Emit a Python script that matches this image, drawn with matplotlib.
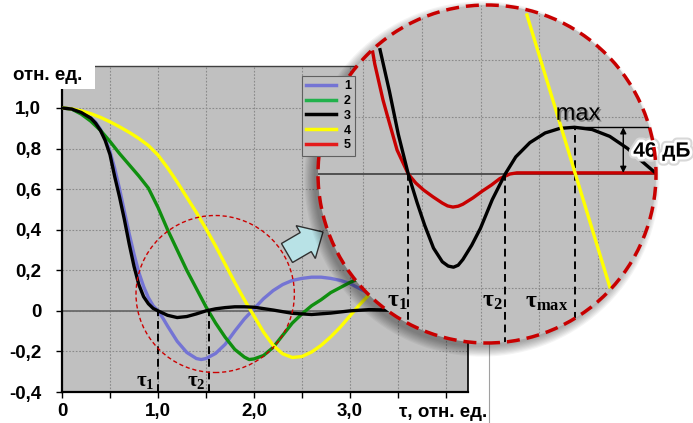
import numpy as np
import matplotlib
matplotlib.use("Agg")
import matplotlib.pyplot as plt
import matplotlib.patches as mpatches
import matplotlib.patheffects as pe
from matplotlib.lines import Line2D

plt.rcParams['font.family'] = ['Liberation Sans', 'DejaVu Sans']
plt.rcParams['mathtext.fontset'] = 'custom'
plt.rcParams['mathtext.rm'] = 'Liberation Serif'
plt.rcParams['mathtext.bf'] = 'Liberation Serif:bold'
plt.rcParams['mathtext.it'] = 'Liberation Serif:italic'

# --- main chart: correlation curves 1-4 vs tau (rel. units) ---
tau_1 = [0.0, 0.1, 0.2, 0.3, 0.35, 0.4, 0.45, 0.5, 0.55, 0.6, 0.65, 0.7, 0.75, 0.8,
         0.85, 0.9, 0.95, 1.0, 1.05, 1.1, 1.2, 1.3, 1.4, 1.45, 1.5, 1.6, 1.7, 1.8,
         1.9, 2.0, 2.1, 2.2, 2.3, 2.4, 2.5, 2.6, 2.7, 2.8, 2.9, 3.0, 3.1, 3.2, 3.3, 3.4]
curve1 = [1.0, 0.995, 0.978, 0.95, 0.93, 0.895, 0.85, 0.785, 0.7, 0.6, 0.49, 0.38, 0.28, 0.19,
          0.12, 0.065, 0.025, 0.0, -0.035, -0.075, -0.15, -0.205, -0.235, -0.24, -0.235, -0.21, -0.165, -0.1,
          -0.04, 0.01, 0.06, 0.1, 0.13, 0.15, 0.16, 0.166, 0.166, 0.16, 0.15, 0.135, 0.11, 0.085, 0.055, 0.025]

tau_2 = [0.0, 0.1, 0.2, 0.3, 0.4, 0.5, 0.6, 0.7, 0.8, 0.9, 1.0, 1.1, 1.2, 1.3, 1.4,
         1.5, 1.6, 1.7, 1.8, 1.9, 1.95, 2.0, 2.1, 2.2, 2.3, 2.4, 2.5, 2.6, 2.7, 2.8,
         2.9, 3.0, 3.1, 3.2, 3.3, 3.4]
curve2 = [1.0, 0.995, 0.97, 0.935, 0.89, 0.835, 0.775, 0.72, 0.665, 0.605, 0.51, 0.40, 0.30, 0.20, 0.11,
          0.02, -0.06, -0.13, -0.19, -0.228, -0.24, -0.237, -0.22, -0.18, -0.12, -0.06, -0.015, 0.025, 0.055, 0.09,
          0.115, 0.14, 0.16, 0.17, 0.175, 0.175]

tau_3 = [0.0, 0.1, 0.2, 0.3, 0.35, 0.4, 0.45, 0.5, 0.55, 0.6, 0.65, 0.7, 0.75, 0.8,
         0.85, 0.9, 0.95, 1.0, 1.1, 1.2, 1.3, 1.4, 1.5, 1.6, 1.7, 1.8, 1.9, 2.0,
         2.2, 2.4, 2.6, 2.8, 3.0, 3.2, 3.4, 3.5]
curve3 = [1.0, 0.995, 0.978, 0.95, 0.925, 0.89, 0.84, 0.77, 0.66, 0.56, 0.45, 0.33, 0.22, 0.13,
          0.07, 0.035, 0.012, 0.0, -0.022, -0.033, -0.028, -0.015, 0.0, 0.01, 0.016, 0.02, 0.02, 0.018,
          0.004, -0.012, -0.018, -0.011, 0.0, 0.006, 0.004, 0.002]

tau_4 = [0.0, 0.1, 0.2, 0.3, 0.4, 0.5, 0.6, 0.7, 0.8, 0.9, 1.0, 1.1, 1.2, 1.3, 1.4,
         1.5, 1.6, 1.7, 1.8, 1.9, 2.0, 2.1, 2.2, 2.3, 2.4, 2.5, 2.6, 2.7, 2.8, 2.9,
         3.0, 3.1, 3.2, 3.3, 3.4]
curve4 = [1.0, 0.996, 0.986, 0.972, 0.954, 0.932, 0.907, 0.88, 0.85, 0.815, 0.768, 0.705, 0.635, 0.56, 0.485,
          0.405, 0.32, 0.23, 0.14, 0.055, -0.025, -0.105, -0.17, -0.212, -0.23, -0.225, -0.203, -0.17, -0.128, -0.08,
          -0.025, 0.03, 0.08, 0.12, 0.15]
tau1, tau2 = 1.0, 1.53

# --- magnified view (grid units) ---
zoom_x3 = [0.29, 0.45, 0.6, 0.77, 0.92, 1.05, 1.2, 1.35, 1.45, 1.54, 1.62, 1.7, 1.85, 2.0, 2.2,
           2.42, 2.6, 2.84, 3.1, 3.35, 3.6, 3.9, 4.2, 4.5, 4.75, 5.0]
zoom_y3 = [2.18, 1.45, 0.7, 0.0, -0.5, -0.9, -1.3, -1.54, -1.615, -1.635, -1.6, -1.5, -1.25, -0.95, -0.45,
           0.0, 0.3, 0.55, 0.72, 0.8, 0.82, 0.78, 0.66, 0.45, 0.22, 0.0]
zoom_x5 = [0.165, 0.2, 0.34, 0.41, 0.58, 0.77, 0.9, 1.03, 1.19, 1.35, 1.44, 1.53, 1.62, 1.7, 1.87,
           2.03, 2.19, 2.33, 2.5, 2.62, 2.8, 3.5, 5.0]
zoom_y5 = [2.14, 1.93, 1.3, 1.04, 0.42, 0.0, -0.16, -0.28, -0.40, -0.51, -0.56, -0.58, -0.565, -0.53, -0.42,
           -0.3, -0.19, -0.08, 0.0, 0.02, 0.02, 0.02, 0.02]
zoom_x4 = [2.79, 4.2]
zoom_y4 = [2.79, -1.98]
ztau1, ztau2, ztau_max, zmax = 0.77, 2.42, 3.6, 0.82

W, H = 693, 423
BG = '#c0c0c0'
GRID = '#8a8a8a'
colors = {'1': '#7474d4', '2': '#0f8f0f', '3': 'black', '4': '#ffff00', '5': '#c80000'}

fig = plt.figure(figsize=(W / 100, H / 100), dpi=100)

ax = fig.add_axes([62 / W, 1 - 392 / H, (468 - 62) / W, (392 - 66) / H])
ax.set_facecolor(BG)
ax.set_xlim(0, 4.23)
ax.set_ylim(-0.4, 1.207)

xt = [0, 0.5, 1.0, 1.5, 2.0, 2.5, 3.0, 3.5, 4.0]
ax.set_xticks(xt)
ax.set_xticklabels(['0', '', '1,0', '', '2,0', '', '3,0', '', ''])
yt = [-0.4, -0.2, 0, 0.2, 0.4, 0.6, 0.8, 1.0]
ax.set_yticks(yt)
ax.set_yticklabels(['-0,4', '-0,2', '0', '0,2', '0,4', '0,6', '0,8', '1,0'])
ax.tick_params(axis='both', length=4, width=1, direction='out', labelsize=13.5)
ax.tick_params(axis='y', pad=11)
ax.tick_params(axis='x', pad=4)
for lbl in ax.get_xticklabels() + ax.get_yticklabels():
    lbl.set_fontweight('bold')
ax.grid(True, color=GRID, linestyle=(0, (1.5, 1.5)), linewidth=0.8)
ax.set_axisbelow(True)
for s in ['left', 'bottom']:
    ax.spines[s].set_linewidth(1.6)
    ax.spines[s].set_color('black')
ax.spines['right'].set_linewidth(1.2)
ax.spines['top'].set_color('#404040')
ax.spines['top'].set_linewidth(1.0)

ax.axhline(0, color='#6a6a6a', lw=1.3, zorder=1.5)

ax.plot(tau_1, curve1, color=colors['1'], lw=2.4, zorder=3, solid_joinstyle='round')
ax.plot(tau_2, curve2, color=colors['2'], lw=2.4, zorder=3, solid_joinstyle='round')
ax.plot(tau_4, curve4, color=colors['4'], lw=2.4, zorder=3, solid_joinstyle='round')
ax.plot(tau_3, curve3, color=colors['3'], lw=2.4, zorder=4, solid_joinstyle='round')

ax.vlines([tau1, tau2], -0.4, 0, colors='black', linestyles=(0, (4, 2.5)), lw=1.4, zorder=4)
ax.text(0.865, -0.35, r'$\mathbf{\tau_1}$', fontsize=15, ha='center', va='center')
ax.text(1.396, -0.35, r'$\mathbf{\tau_2}$', fontsize=15, ha='center', va='center')

# dashed circle marking the magnified region
ax.add_patch(mpatches.Ellipse((1.596, 0.083), 1.65, 0.774, fill=False,
                              ec='#cc0000', lw=1.0, ls=(0, (3, 2)), zorder=5))

# white box behind the y-axis unit label
fig.add_artist(mpatches.Rectangle((0, 1 - 89 / H), 95 / W, 45 / H, transform=fig.transFigure,
                                  fc='white', ec='none', zorder=4))
fig.text(13 / W, 1 - 75 / H, 'отн. ед.', fontsize=13.5, fontweight='bold',
         ha='left', va='center', zorder=5)
fig.text(487 / W, 1 - 412 / H, 'τ, отн. ед.', fontsize=13.5, fontweight='bold',
         ha='right', va='center')
fig.add_artist(Line2D([489 / W, 489 / W], [1 - 422 / H, 1 - 300 / H], transform=fig.transFigure,
                      color='#a0a0a0', lw=0.8, zorder=1))

# pointer arrow towards the magnified view
fig.add_artist(mpatches.FancyArrow(2.87, 1.70, 0.36, 0.21, width=0.22, head_width=0.38,
                                   head_length=0.2, length_includes_head=True,
                                   transform=fig.dpi_scale_trans, fc='#b8e2e6',
                                   ec='#303030', lw=1.0, zorder=1))

# soft shadow behind the magnifier
for k in range(9):
    fig.add_artist(mpatches.Circle((4.82, 2.44), 1.68 + 0.012 * (8 - k),
                                   transform=fig.dpi_scale_trans, fc='black',
                                   ec='none', alpha=0.045, zorder=2))

# --- magnifier ---
ax2 = fig.add_axes([318 / W, 1 - 343 / H, 338 / W, 338 / H], zorder=3)
ax2.set_xlim(-0.766, 4.987)
ax2.set_ylim(-2.965, 2.965)
ax2.axis('off')
ax2.add_patch(mpatches.Circle((0.5, 0.5), 0.5, transform=ax2.transAxes, fc=BG, ec='none', zorder=0))
clip = mpatches.Circle((0.5, 0.5), 0.5, transform=ax2.transAxes)

arts = []
for gx in [0, 1, 2, 3, 4]:
    arts.append(ax2.axvline(gx, color=GRID, ls=(0, (1.5, 1.5)), lw=0.8, zorder=1))
for gy in [-2, -1, 1, 2]:
    arts.append(ax2.axhline(gy, color=GRID, ls=(0, (1.5, 1.5)), lw=0.8, zorder=1))
arts.append(ax2.axhline(0, color='#505050', lw=1.4, zorder=2))
arts.append(ax2.plot(zoom_x4, zoom_y4, color=colors['4'], lw=2.4, zorder=5)[0])
arts.append(ax2.plot(zoom_x5, zoom_y5, color=colors['5'], lw=2.4, zorder=3, solid_joinstyle='round')[0])
arts.append(ax2.plot(zoom_x3, zoom_y3, color=colors['3'], lw=2.4, zorder=4, solid_joinstyle='round')[0])
arts.append(ax2.vlines([ztau1, ztau2], -3, 0, colors='black', linestyles=(0, (4, 2.5)), lw=1.4, zorder=4))
arts.append(ax2.vlines([ztau_max], -3, zmax, colors='black', linestyles=(0, (4, 2.5)), lw=1.4, zorder=4))
arts.append(ax2.hlines([zmax], ztau_max, 5.0, colors='black', lw=1.0, zorder=4))
for a in arts:
    a.set_clip_path(clip)

ax2.annotate('', xy=(4.43, zmax), xytext=(4.43, 0.02),
             arrowprops=dict(arrowstyle='<|-|>', color='black', lw=1.0,
                             mutation_scale=9, shrinkA=0, shrinkB=0))
ax2.text(3.66, 0.95, 'max', fontsize=17, ha='center', va='baseline', zorder=6,
         path_effects=[pe.withSimplePatchShadow(offset=(1.2, -1.2), shadow_rgbFace='#555555', alpha=0.6)])
ax2.text(4.6, 0.4, '46 дБ', fontsize=15, fontweight='bold', ha='left', va='center',
         clip_on=False, zorder=6,
         path_effects=[pe.Stroke(linewidth=7, foreground='#d8d8d8'),
                       pe.Stroke(linewidth=4, foreground='white'), pe.Normal()])
ax2.text(0.58, -2.23, r'$\mathbf{\tau_1}$', fontsize=17, ha='center', va='center', zorder=6)
ax2.text(2.2, -2.23, r'$\mathbf{\tau_2}$', fontsize=17, ha='center', va='center', zorder=6)
ax2.text(3.13, -2.25, r'$\mathbf{\tau_{max}}$', fontsize=17, ha='center', va='center', zorder=6)

ax2.add_patch(mpatches.Circle((0.5, 0.5), 0.5, transform=ax2.transAxes, fill=False,
                              ec='#c80000', lw=2.5, ls=(0, (3.75, 2)), zorder=10, clip_on=False))

# legend sits on top of everything
leg_colors = ['#7474d4', '#22b14c', 'black', '#ffff00', '#e41b1b']
leg = fig.legend([Line2D([], [], color=c, lw=2.5) for c in leg_colors],
                 ['1', '2', '3', '4', '5'], loc='upper left',
                 bbox_to_anchor=(302 / W, 1 - 76 / H), prop={'weight': 'bold', 'size': 9},
                 frameon=True, fancybox=False, facecolor=BG, edgecolor='#606060', framealpha=1,
                 handlelength=2.4, handletextpad=0.6, labelspacing=0.22, borderpad=0.35,
                 borderaxespad=0)
leg.set_zorder(8)
leg.get_frame().set_linewidth(0.8)

fig.savefig('out.png', dpi=100)
